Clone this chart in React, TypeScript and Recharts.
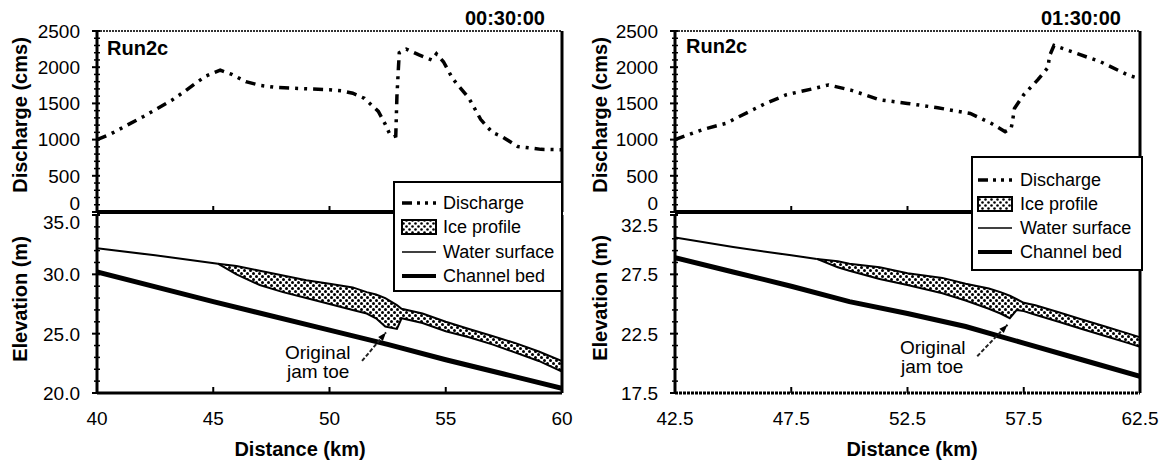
import React from "react";
import { ComposedChart, LineChart, Line, Area, XAxis, YAxis, ReferenceLine } from "recharts";

const FONT = "'Liberation Sans', Arial, Helvetica, sans-serif";

// Run2c at 00:30:00 (left panel) — [km, cms]
const dischargeLeft = [
  [40, 1000], [40.6, 1080], [41.3, 1200], [42, 1320], [42.6, 1430], [43.2, 1540], [43.7, 1650],
  [44.2, 1770], [44.7, 1880], [45.3, 1960], [45.8, 1900], [46.4, 1800], [47, 1750], [47.7, 1720],
  [48.4, 1710], [49.1, 1700], [50, 1690], [50.5, 1675], [51, 1640], [51.5, 1570], [51.8, 1480],
  [52.1, 1390], [52.4, 1210], [52.6, 1070], [52.75, 1040], [52.85, 1050], [52.9, 1600], [53, 2200],
  [53.3, 2250], [53.85, 2170], [54.4, 2100], [54.6, 2185], [54.9, 2075], [55.3, 1840], [56, 1570],
  [56.5, 1280], [57, 1100], [57.4, 1045], [58.1, 905], [59.1, 865], [60, 860],
];
// elevations, [km, m]
const bedLeft = [[40, 30.2], [45, 27.7], [50, 25.3], [52.5, 24.1], [55, 22.8], [57.5, 21.6], [60, 20.4]];
const waterLeft = [[40, 32.2], [42.5, 31.6], [45.2, 30.9]];
// ice profile, [km, bottom, top]
const iceLeft = [
  [45.2, 30.9, 30.9], [46, 30.0, 30.7], [47, 29.1, 30.3], [48, 28.5, 29.9], [49, 28.0, 29.5],
  [50, 27.5, 29.2], [51, 27.0, 28.9], [51.6, 26.7, 28.5], [52, 26.3, 28.3], [52.4, 25.6, 28.0],
  [52.9, 25.4, 27.4], [53.1, 26.3, 27.1], [54, 25.9, 26.7], [55, 25.2, 26.0], [56, 24.7, 25.4],
  [57, 24.1, 24.8], [58, 23.4, 24.2], [59, 22.7, 23.5], [60, 21.8, 22.7],
];
const toeLeft = [[51.4, 22.7], [52.43, 25.1]];

// Run2c at 01:30:00 (right panel)
const dischargeRight = [
  [42.5, 1000], [43.7, 1140], [44.7, 1225], [45.4, 1340], [46.4, 1500], [47.3, 1620], [48.4, 1700],
  [49.1, 1755], [50.1, 1680], [51.3, 1550], [52.5, 1500], [53.8, 1440], [55.2, 1360], [56.1, 1225],
  [56.7, 1110], [56.95, 1150], [57, 1220], [57.1, 1430], [57.5, 1620], [58.1, 1825], [58.4, 1940],
  [58.55, 2000], [58.6, 2150], [58.8, 2300], [59.6, 2210], [60.8, 2075], [62, 1890], [62.5, 1840],
];
const bedRight = [[42.5, 28.9], [45, 27.7], [47.5, 26.5], [50, 25.2], [52.5, 24.2], [55, 23.1], [57.5, 21.7], [60, 20.3], [62.5, 18.9]];
const waterRight = [[42.5, 30.6], [45, 29.8], [47.5, 29.1], [48.6, 28.8]];
const iceRight = [
  [48.6, 28.8, 28.8], [49.5, 28.1, 28.6], [50, 27.8, 28.4], [51.3, 27.1, 28.1], [52.5, 26.6, 27.6],
  [54, 25.9, 27.2], [55, 25.3, 26.7], [56, 24.6, 26.3], [56.5, 24.2, 26.0], [56.9, 23.8, 25.7],
  [57.2, 24.5, 25.4], [57.5, 24.4, 25.1], [58, 24.1, 24.9], [59, 23.5, 24.3], [60, 22.9, 23.7],
  [61, 22.3, 23.1], [62, 21.7, 22.5], [62.5, 21.4, 22.2],
];
const toeRight = [[55.5, 20.6], [56.8, 23.25]];

const qTicks = [0, 500, 1000, 1500, 2000, 2500];
const kmTicksLeft = [40, 45, 50, 55, 60];
const kmTicksRight = [42.5, 47.5, 52.5, 57.5, 62.5];
const elevTicksLeft = [20, 25, 30, 35];
const elevTicksRight = [17.5, 22.5, 27.5, 32.5];

const qMinor = Array.from({ length: 26 }, (_, i) => i * 100);
const DASH = "10 6 3 6 3 6";

const pts = (a: number[][]) => a.map(([km, v]) => ({ km, v }));

const upTick = (fmt?: (v: number) => string) => (t: any) => (
  <g>
    <line x1={t.x} x2={t.x} y1={t.y} y2={t.y - 6} stroke="#000" strokeWidth={2} />
    {fmt && (
      <text x={t.x} y={t.y + 32} textAnchor="middle" fontFamily={FONT} fontSize={19} fill="#000">
        {fmt(t.payload.value)}
      </text>
    )}
  </g>
);

const yTick = (major: number[], fmt: (v: number) => string, shift: Record<string, number>) => (t: any) => {
  const v = t.payload.value;
  const isMajor = major.some((m) => Math.abs(m - v) < 1e-6);
  return (
    <g>
      <line x1={t.x - (isMajor ? 5 : 3)} x2={t.x + 3} y1={t.y} y2={t.y} stroke="#000" strokeWidth={isMajor ? 2 : 1.5} />
      {isMajor && (
        <text x={t.x - 17} y={t.y + (shift[String(v)] ?? 0)} dy="0.36em" textAnchor="end" fontFamily={FONT} fontSize={19} fill="#000">
          {fmt(v)}
        </text>
      )}
    </g>
  );
};

const arrowShape = (s: any) => {
  const { x1, y1, x2, y2 } = s;
  const a = Math.atan2(y2 - y1, x2 - x1);
  const h = 9;
  const p1 = [x2 - h * Math.cos(a - 0.35), y2 - h * Math.sin(a - 0.35)];
  const p2 = [x2 - h * Math.cos(a + 0.35), y2 - h * Math.sin(a + 0.35)];
  return (
    <g>
      <line x1={x1} y1={y1} x2={x2} y2={y2} stroke="#222" strokeWidth={2} strokeDasharray="4 2" />
      <polygon points={`${x2},${y2} ${p1[0]},${p1[1]} ${p2[0]},${p2[1]}`} fill="#000" />
    </g>
  );
};

type PanelProps = {
  id: string;
  width: number;
  rightGap: number;
  km: number[];
  kmFmt: (v: number) => string;
  elev: number[];
  elevTopShift: number;
  q: number[][];
  bed: number[][];
  water: number[][];
  ice: number[][];
  toe: number[][];
  dottedBottom?: boolean;
};

function DischargeChart({ p }: { p: PanelProps }) {
  const k0 = p.km[0];
  const k1 = p.km[p.km.length - 1];
  return (
    <LineChart width={p.width} height={214} margin={{ top: 31, right: p.rightGap, bottom: 0, left: 0 }}>
      <XAxis
        type="number" dataKey="km" domain={[k0, k1]} ticks={p.km.slice(1, -1)} interval={0} allowDataOverflow
        height={2} tickSize={0} tickMargin={0} tickLine={false}
        axisLine={{ stroke: "#000", strokeWidth: 4 }} tick={upTick()}
      />
      <YAxis
        type="number" domain={[0, 2500]} ticks={qMinor} interval={0} width={97}
        tickSize={0} tickMargin={0} tickLine={false}
        axisLine={{ stroke: "#000", strokeWidth: 3 }}
        tick={yTick(qTicks, (v) => String(v), { "0": -9 })}
      />
      <ReferenceLine y={2500} stroke="#333" strokeWidth={2} strokeDasharray="2 1" />
      <ReferenceLine x={k1} stroke="#000" strokeWidth={3} />
      <Line
        data={pts(p.q)} dataKey="v" type="linear" stroke="#000" strokeWidth={3.5}
        strokeDasharray={DASH} dot={false} isAnimationActive={false}
      />
    </LineChart>
  );
}

function ElevationChart({ p }: { p: PanelProps }) {
  const k0 = p.km[0];
  const k1 = p.km[p.km.length - 1];
  const e0 = p.elev[0];
  const e1 = p.elev[p.elev.length - 1];
  const minor = Array.from({ length: Math.round(e1 - e0) + 1 }, (_, i) => e0 + i);
  const ice = p.ice.map(([km, lo, hi]) => ({ km, ice: [lo, hi] }));
  return (
    <ComposedChart width={p.width} height={274} margin={{ top: 15, right: p.rightGap, bottom: 0, left: 0 }}>
      <defs>
        <pattern id={`ice-${p.id}`} width={6} height={6} patternUnits="userSpaceOnUse">
          <rect width={6} height={6} fill="#fff" />
          <circle cx={1.5} cy={1.5} r={1.5} fill="#000" />
          <circle cx={4.5} cy={4.5} r={1.5} fill="#000" />
        </pattern>
      </defs>
      <XAxis
        type="number" dataKey="km" domain={[k0, k1]} ticks={p.km} interval={0} allowDataOverflow
        height={81} tickSize={0} tickMargin={0} tickLine={false}
        axisLine={{ stroke: "#000", strokeWidth: 3, strokeDasharray: p.dottedBottom ? "3 1" : undefined }}
        tick={upTick(p.kmFmt)}
      />
      <YAxis
        type="number" domain={[e0, e1]} ticks={minor} interval={0} width={97}
        tickSize={0} tickMargin={0} tickLine={false}
        axisLine={{ stroke: "#000", strokeWidth: 3 }}
        tick={yTick(p.elev, (v) => v.toFixed(1), { [String(e1)]: p.elevTopShift })}
      />
      <ReferenceLine x={k1} stroke="#000" strokeWidth={3} />
      <Area
        data={ice} dataKey="ice" type="linear" stroke="#000" strokeWidth={2}
        fill={`url(#ice-${p.id})`} fillOpacity={1} isAnimationActive={false}
      />
      <Line data={pts(p.water)} dataKey="v" type="linear" stroke="#000" strokeWidth={2} dot={false} isAnimationActive={false} />
      <Line data={pts(p.bed)} dataKey="v" type="linear" stroke="#000" strokeWidth={5} dot={false} isAnimationActive={false} />
      <ReferenceLine
        segment={[{ x: p.toe[0][0], y: p.toe[0][1] }, { x: p.toe[1][0], y: p.toe[1][1] }]}
        shape={arrowShape}
      />
    </ComposedChart>
  );
}

function LegendBox({ x, y, w, h, rows, symX, textX }: any) {
  const labels = ["Discharge", "Ice profile", "Water surface", "Channel bed"];
  return (
    <g>
      <rect x={x} y={y} width={w} height={h} fill="#fff" stroke="#000" strokeWidth={2} />
      {rows.map((ry: number, i: number) => (
        <g key={i}>
          {i === 0 && <line x1={symX} x2={symX + 34} y1={ry} y2={ry} stroke="#000" strokeWidth={3.5} strokeDasharray="10 5 3 5 3 5" />}
          {i === 1 && <rect x={symX} y={ry - 7} width={34} height={14} fill="url(#ice-legend)" stroke="#000" strokeWidth={2} />}
          {i === 2 && <line x1={symX} x2={symX + 34} y1={ry} y2={ry} stroke="#000" strokeWidth={1.5} />}
          {i === 3 && <line x1={symX} x2={symX + 34} y1={ry} y2={ry} stroke="#000" strokeWidth={4} />}
          <text x={textX} y={ry} dy="0.36em" fontFamily={FONT} fontSize={18} fill="#000">{labels[i]}</text>
        </g>
      ))}
    </g>
  );
}

const left: PanelProps = {
  id: "l", width: 575, rightGap: 13, km: kmTicksLeft, kmFmt: (v) => String(v), elev: elevTicksLeft, elevTopShift: 7,
  q: dischargeLeft, bed: bedLeft, water: waterLeft, ice: iceLeft, toe: toeLeft,
};
const right: PanelProps = {
  id: "r", width: 585, rightGap: 23, km: kmTicksRight, kmFmt: (v) => v.toFixed(1), elev: elevTicksRight, elevTopShift: 10,
  q: dischargeRight, bed: bedRight, water: waterRight, ice: iceRight, toe: toeRight, dottedBottom: true,
};

export default function App() {
  const bold = { fontFamily: FONT, fontSize: 20, fontWeight: 700, fill: "#000" } as const;
  const plain = { fontFamily: FONT, fontSize: 19, fill: "#000" } as const;
  return (
    <div style={{ position: "absolute", left: 0, top: 0, width: 1163, height: 474, background: "#fff", overflow: "hidden" }}>
      <div style={{ position: "absolute", left: 0, top: 0 }}><DischargeChart p={left} /></div>
      <div style={{ position: "absolute", left: 0, top: 200 }}><ElevationChart p={left} /></div>
      <div style={{ position: "absolute", left: 578, top: 0 }}><DischargeChart p={right} /></div>
      <div style={{ position: "absolute", left: 578, top: 200 }}><ElevationChart p={right} /></div>
      <svg width={1163} height={474} style={{ position: "absolute", left: 0, top: 0, pointerEvents: "none" }}>
        <defs>
          <pattern id="ice-legend" width={6} height={6} patternUnits="userSpaceOnUse">
            <rect width={6} height={6} fill="#fff" />
            <circle cx={1.5} cy={1.5} r={1.3} fill="#000" />
            <circle cx={4.5} cy={4.5} r={1.3} fill="#000" />
          </pattern>
        </defs>
        <text x={107} y={55} {...bold}>Run2c</text>
        <text x={686} y={53} {...bold}>Run2c</text>
        <text x={545} y={25} textAnchor="end" {...bold}>00:30:00</text>
        <text x={1121} y={25} textAnchor="end" {...bold}>01:30:00</text>
        <text transform="translate(27,115) rotate(-90)" textAnchor="middle" {...bold}>Discharge (cms)</text>
        <text transform="translate(27,299) rotate(-90)" textAnchor="middle" {...bold}>Elevation (m)</text>
        <text transform="translate(607,115) rotate(-90)" textAnchor="middle" {...bold}>Discharge (cms)</text>
        <text transform="translate(607,298) rotate(-90)" textAnchor="middle" {...bold}>Elevation (m)</text>
        <text x={300} y={456} textAnchor="middle" {...bold}>Distance (km)</text>
        <text x={912} y={456} textAnchor="middle" {...bold}>Distance (km)</text>
        <text x={285} y={359} {...plain}>Original</text>
        <text x={287} y={378} {...plain}>jam toe</text>
        <text x={900} y={354} {...plain}>Original</text>
        <text x={901} y={373} {...plain}>jam toe</text>
        <LegendBox x={394} y={182} w={168} h={109} rows={[203, 227, 252, 276]} symX={402} textX={443} />
        <LegendBox x={972} y={157} w={170} h={113} rows={[180, 204, 228, 252]} symX={978} textX={1020} />
      </svg>
    </div>
  );
}
